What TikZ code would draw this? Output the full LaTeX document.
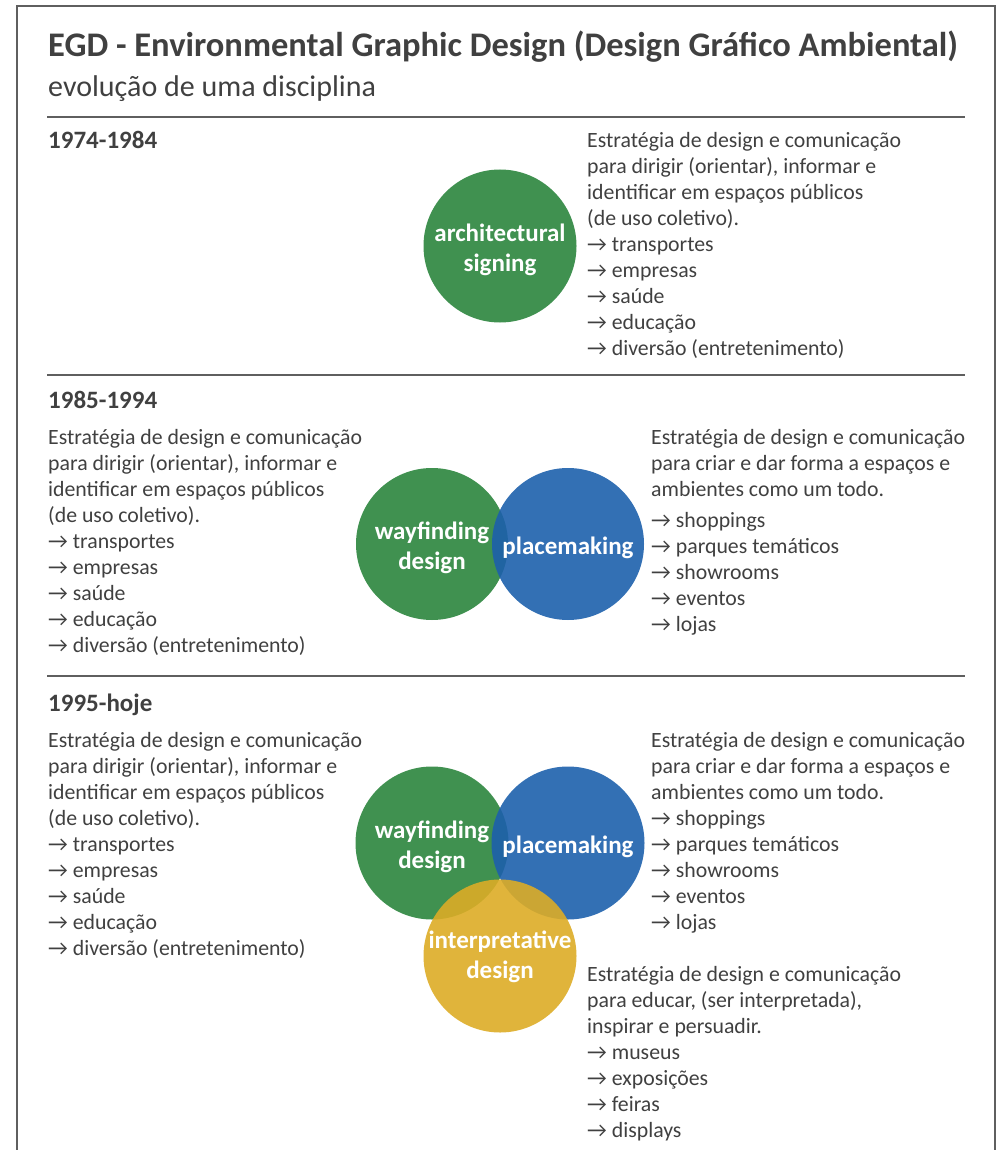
\documentclass[tikz,border=0pt]{standalone}
\usepackage{fontspec}
\setmainfont{Carlito}
\definecolor{egdgreen}{RGB}{43,133,61}
\definecolor{egdblue}{RGB}{29,96,172}
\definecolor{egdyellow}{RGB}{221,172,38}
\definecolor{egdgray}{RGB}{64,64,64}
\definecolor{egdline}{RGB}{95,95,95}
\begin{document}
\begin{tikzpicture}[x=1pt,y=-1pt]
	\tikzset{egdcircle/.style={circle, minimum size=153pt, inner sep=0pt,
				fill opacity=0.9}}
	\tikzset{egdlabel/.style={inner sep=0pt, text=white, align=center,
				font=\fontsize{25}{30}\selectfont\bfseries, yshift=-4pt}}
	\tikzset{egdtext/.style={anchor=base west, inner sep=0pt, align=left,
				text=egdgray, font=\fontsize{21.8}{26}\selectfont}}
	\tikzset{egdyear/.style={egdtext, font=\fontsize{25}{30}\selectfont\bfseries}}
	\tikzset{egdrule/.style={draw=egdline, line width=1.2pt}}

	\useasboundingbox (0,0) rectangle (1003,1150);
	\draw[draw=egdline, line width=1.6pt] (17,1150) -- (17,6) -- (995,6) -- (995,1150);

	% heading
	\node[egdtext, font=\fontsize{34.5}{40}\selectfont\bfseries] (title) at (48,57)
		{EGD - Environmental Graphic Design (Design Gráfico Ambiental)};
	\node[egdtext, font=\fontsize{30}{36}\selectfont] (subtitle) at (48,97)
		{evolução de uma disciplina};

	\draw[egdrule] (47,117) -- (965,117);
	\draw[egdrule] (47,375) -- (965,375);
	\draw[egdrule] (47,676) -- (965,676);

	% 1974-1984 (text nodes sit on their last line)
	\node[egdyear] (y1) at (48,149) {1974-1984};
	\node[egdcircle, fill=egdgreen] (arch) at (500,246) {};
	\node[egdlabel] (arch-l) at (arch) {architectural\\signing};
	\node[egdtext] (arch-t) at (587,355)
		{Estratégia de design e comunicação\\para dirigir (orientar), informar e\\
		identificar em espaços públicos\\(de uso coletivo).\\→ transportes\\
		→ empresas\\→ saúde\\→ educação\\→ diversão (entretenimento)};

	% 1985-1994
	\node[egdyear] (y2) at (48,408) {1985-1994};
	\node[egdcircle, fill=egdgreen, minimum size=152pt] (way2) at (432,544) {};
	\node[egdcircle, fill=egdblue, minimum size=152pt] (place2) at (568,544) {};
	\node[egdlabel] (way2-l) at (way2) {wayfinding\\design};
	\node[egdlabel] (place2-l) at (place2) {placemaking};
	\node[egdtext] (way2-t) at (48,652)
		{Estratégia de design e comunicação\\para dirigir (orientar), informar e\\
		identificar em espaços públicos\\(de uso coletivo).\\→ transportes\\
		→ empresas\\→ saúde\\→ educação\\→ diversão (entretenimento)};
	\node[egdtext] (place2-t) at (651,631)
		{Estratégia de design e comunicação\\para criar e dar forma a espaços e\\
		ambientes como um todo.\\[5pt]→ shoppings\\→ parques temáticos\\
		→ showrooms\\→ eventos\\→ lojas};

	% 1995-hoje
	\node[egdyear] (y3) at (48,711) {1995-hoje};
	\node[egdcircle, fill=egdgreen] (way3) at (432,843) {};
	\node[egdcircle, fill=egdblue] (place3) at (568,843) {};
	\node[egdcircle, fill=egdyellow] (interp3) at (500,956) {};
	\node[egdlabel] (way3-l) at (way3) {wayfinding\\design};
	\node[egdlabel] (place3-l) at (place3) {placemaking};
	\node[egdlabel, yshift=3pt] (interp3-l) at (interp3) {interpretative\\design};
	\node[egdtext] (way3-t) at (48,955)
		{Estratégia de design e comunicação\\para dirigir (orientar), informar e\\
		identificar em espaços públicos\\(de uso coletivo).\\→ transportes\\
		→ empresas\\→ saúde\\→ educação\\→ diversão (entretenimento)};
	\node[egdtext] (place3-t) at (651,929)
		{Estratégia de design e comunicação\\para criar e dar forma a espaços e\\
		ambientes como um todo.\\→ shoppings\\→ parques temáticos\\
		→ showrooms\\→ eventos\\→ lojas};
	\node[egdtext] (interp3-t) at (587,1137)
		{Estratégia de design e comunicação\\para educar, (ser interpretada),\\
		inspirar e persuadir.\\→ museus\\→ exposições\\→ feiras\\→ displays};
\end{tikzpicture}
\end{document}
